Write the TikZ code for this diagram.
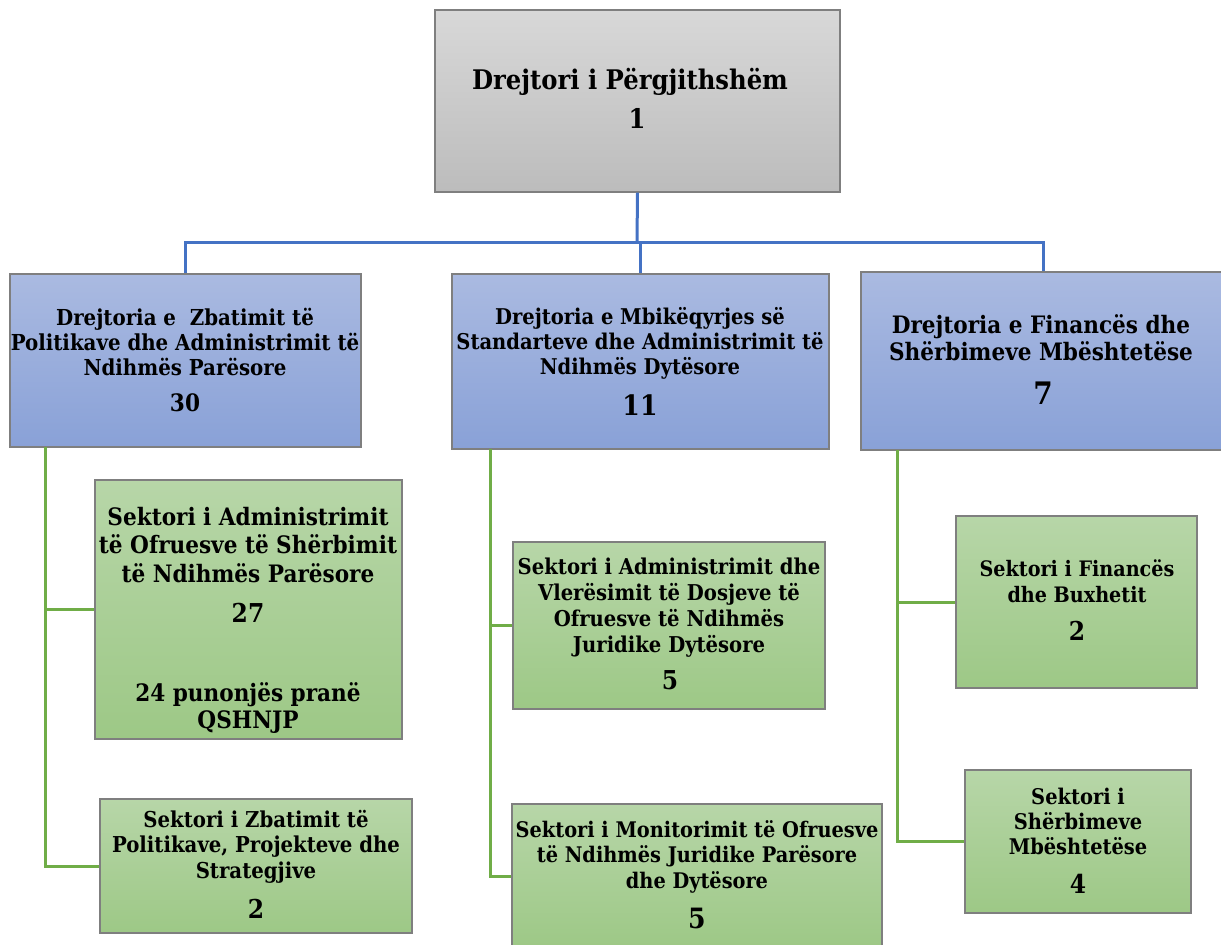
\documentclass[tikz,border=0pt]{standalone}
\usepackage{fontspec}
\setmainfont{DejaVu Serif Condensed}[BoldFont={DejaVu Serif Condensed Bold}]
\definecolor{grayT}{HTML}{D8D8D8}
\definecolor{grayB}{HTML}{BCBCBC}
\definecolor{blueT}{HTML}{AABAE1}
\definecolor{blueB}{HTML}{89A1D7}
\definecolor{greenT}{HTML}{B7D6A8}
\definecolor{greenB}{HTML}{9DC886}
\definecolor{edge}{HTML}{7F7F7F}
\definecolor{lnblue}{HTML}{4472C4}
\definecolor{lngreen}{HTML}{70AD47}
\tikzset{
  box/.style={rectangle, draw=edge, line width=1.2pt, inner sep=0pt},
  graybox/.style={box, top color=grayT, bottom color=grayB},
  bluebox/.style={box, top color=blueT, bottom color=blueB},
  greenbox/.style={box, top color=greenT, bottom color=greenB},
  txt/.style={anchor=base, align=center, inner sep=0pt, font=\bfseries},
  bl/.style={draw=lnblue, line width=3pt},
  gr/.style={draw=lngreen, line width=3pt},
}
\newcommand{\fs}[2]{\fontsize{#1}{#2}\selectfont}
\begin{document}
\begin{tikzpicture}[x=1pt,y=-1pt]
\useasboundingbox (0,0) rectangle (1221,945);
% boxes
\node[graybox, minimum width=405, minimum height=182] (top) at (637.5,101) {};
\node[bluebox, minimum width=351, minimum height=173] (A) at (185.5,360.5) {};
\node[bluebox, minimum width=377, minimum height=175] (B) at (640.5,361.5) {};
\node[bluebox, minimum width=364, minimum height=178] (C) at (1043,361) {};
\node[greenbox, minimum width=307, minimum height=259] (L1) at (248.5,609.5) {};
\node[greenbox, minimum width=312, minimum height=134] (L2) at (256,866) {};
\node[greenbox, minimum width=312, minimum height=167] (M1) at (669,625.5) {};
\node[greenbox, minimum width=370, minimum height=144] (M2) at (697,876) {};
\node[greenbox, minimum width=241, minimum height=172] (R1) at (1076.5,602) {};
\node[greenbox, minimum width=226, minimum height=143] (R2) at (1078,841.5) {};
% texts (base anchor = baseline of last line)
\node[txt, font=\bfseries\fs{27}{30}] (tTop) at (630,89) {Drejtori i Përgjithshëm};
\node[txt, font=\bfseries\fs{27}{30}] (nTop) at (637,128) {1};
\node[txt, font=\bfseries\fs{22}{25}] (tA) at (185,375) {Drejtoria e\ \ Zbatimit të\\Politikave dhe Administrimit të\\Ndihmës Parësore};
\node[txt, font=\bfseries\fs{24}{30}] (nA) at (185,411) {30};
\node[txt, font=\bfseries\fs{21.7}{25}] (tB) at (640,374) {Drejtoria e Mbikëqyrjes së\\Standarteve dhe Administrimit të\\Ndihmës Dytësore};
\node[txt, font=\bfseries\fs{28}{30}] (nB) at (640,415) {11};
\node[txt, font=\bfseries\fs{24}{27}] (tC) at (1041,360) {Drejtoria e Financës dhe\\Shërbimeve Mbështetëse};
\node[txt, font=\bfseries\fs{31}{34}] (nC) at (1043,404) {7};
\node[txt, font=\bfseries\fs{24}{28.5}] (tL1) at (248,582) {Sektori i Administrimit\\të Ofruesve të Shërbimit\\të Ndihmës Parësore};
\node[txt, font=\bfseries\fs{26}{30}] (nL1) at (248,622) {27};
\node[txt, font=\bfseries\fs{24}{27}] (sL1) at (248,728) {24 punonjës pranë\\QSHNJP};
\node[txt, font=\bfseries\fs{21.9}{25.5}] (tL2) at (256,878) {Sektori i Zbatimit të\\Politikave, Projekteve dhe\\Strategjive};
\node[txt, font=\bfseries\fs{26}{30}] (nL2) at (256,918) {2};
\node[txt, font=\bfseries\fs{21.8}{25.7}] (tM1) at (669,652) {Sektori i Administrimit dhe\\Vlerësimit të Dosjeve të\\Ofruesve të Ndihmës\\Juridike Dytësore};
\node[txt, font=\bfseries\fs{26}{30}] (nM1) at (670,689) {5};
\node[txt, font=\bfseries\fs{21.5}{25.5}] (tM2) at (697,888) {Sektori i Monitorimit të Ofruesve\\të Ndihmës Juridike Parësore\\dhe Dytësore};
\node[txt, font=\bfseries\fs{28}{30}] (nM2) at (697,928) {5};
\node[txt, font=\bfseries\fs{21.3}{26}] (tR1) at (1077,602) {Sektori i Financës\\dhe Buxhetit};
\node[txt, font=\bfseries\fs{26}{30}] (nR1) at (1077,640) {2};
\node[txt, font=\bfseries\fs{21.6}{25}] (tR2) at (1078,854) {Sektori i\\Shërbimeve\\Mbështetëse};
\node[txt, font=\bfseries\fs{26}{30}] (nR2) at (1078,893) {4};
% blue connectors
\coordinate (j) at (637,242);
\draw[bl] (top.south) -- (j);
\draw[bl] (j) -| (A.north);
\draw[bl] (j) -| (B.north);
\draw[bl] (j) -| (C.north);
% green connectors
\coordinate (ga) at (45,447);
\coordinate (gb) at (490,449);
\coordinate (gc) at (897,450);
\draw[gr] (ga) |- (L1.west);
\draw[gr] (ga) |- (L2.west);
\draw[gr] (gb) |- (M1.west);
\draw[gr] (gb) |- (M2.west);
\draw[gr] (gc) |- (R1.west);
\draw[gr] (gc) |- (R2.west);
\end{tikzpicture}
\end{document}
